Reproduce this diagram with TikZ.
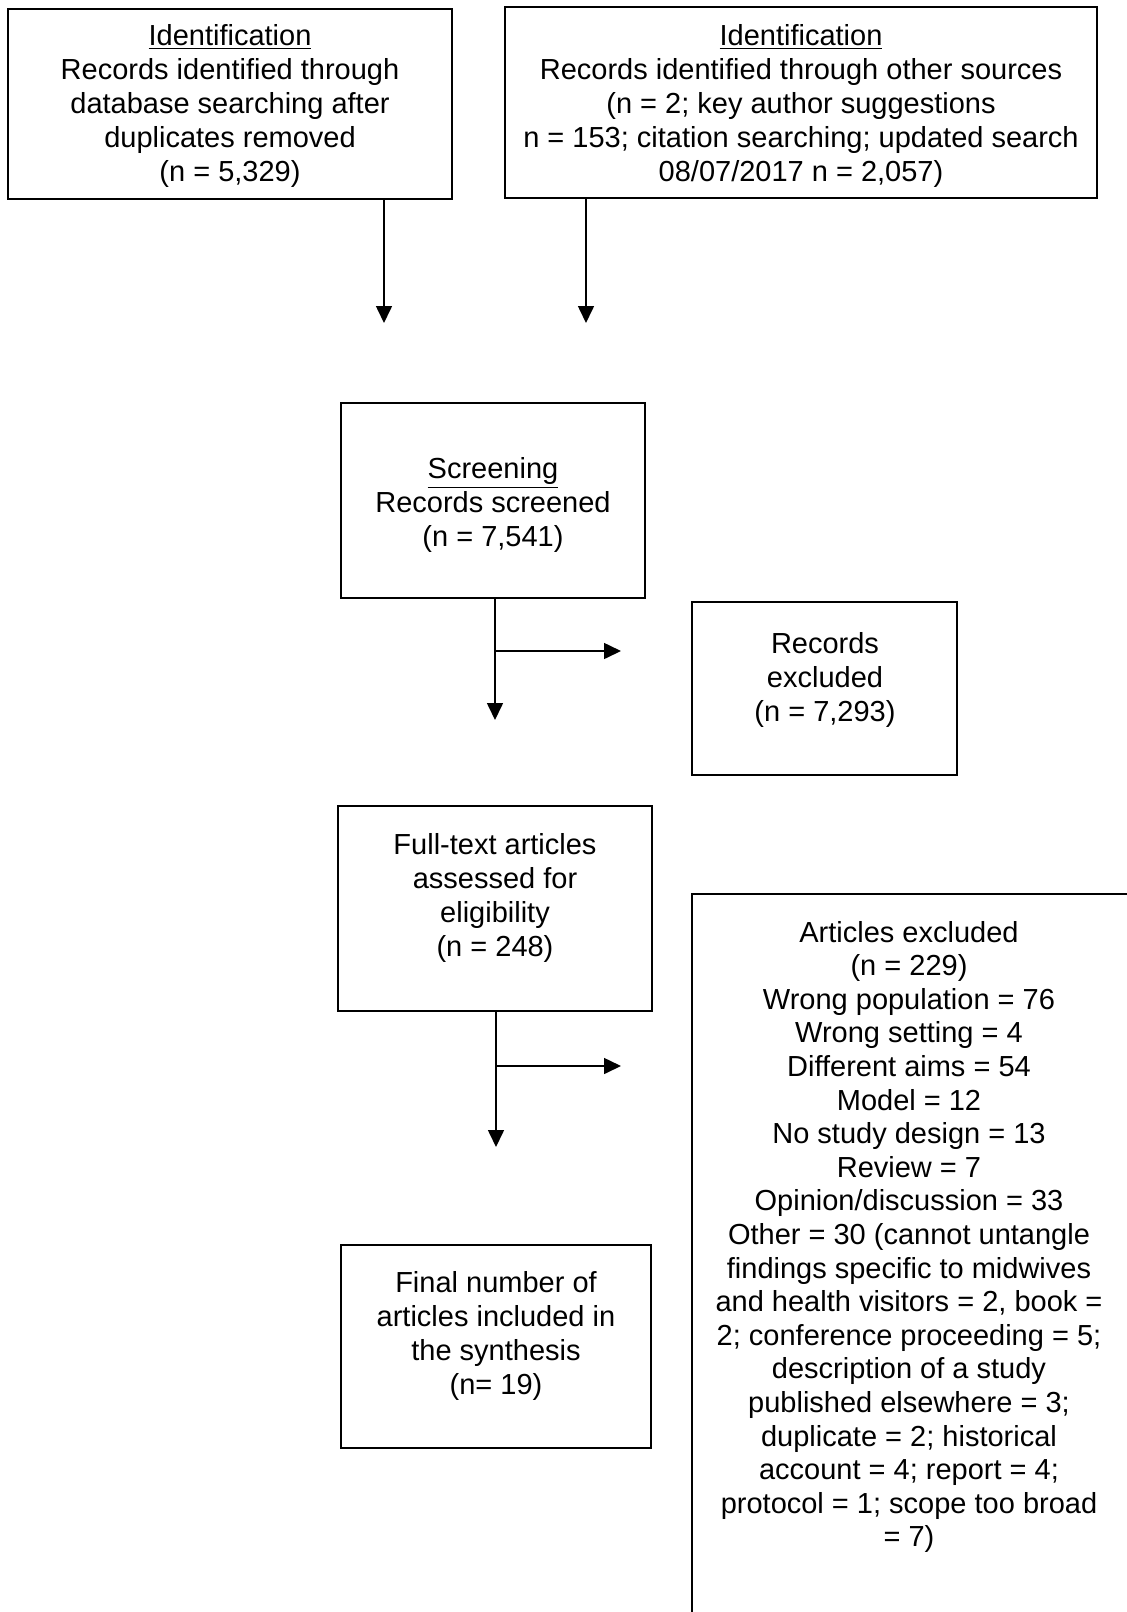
\documentclass[tikz,border=0pt]{standalone}
\usepackage{fontspec}
\setmainfont{Liberation Sans}
\usetikzlibrary{arrows.meta,fit}

\tikzset{
  stagebox/.style={draw=black, line width=1pt, inner sep=0pt, fill=none},
  boxtext/.style={align=center, inner sep=0pt, font=\fontsize{14.5}{17}\selectfont},
  listtext/.style={boxtext, font=\fontsize{14.5}{16.8}\selectfont},
  flow/.style={line width=0.8pt, -{Triangle[length=8.5pt,width=8pt]}},
}

\begin{document}
\begin{tikzpicture}[x=0.5pt, y=-0.5pt]
  \useasboundingbox (0,0) rectangle (1127,1612);
  \clip (0,0) rectangle (1127,1612);
  \fill[white] (0,0) rectangle (1127,1612);

  % identification boxes
  \node[stagebox, fit={(8,9) (452,199)}] (ident1) {};
  \node[boxtext] (ident1t) at (230,106)
    {\underline{Identification}\\Records identified through\\database searching after\\duplicates removed\\(n = 5,329)};

  \node[stagebox, fit={(505,7) (1097,198)}] (ident2) {};
  \node[boxtext] (ident2t) at (801,106)
    {\underline{Identification}\\Records identified through other sources\\(n = 2; key author suggestions\\n = 153; citation searching; updated search\\08/07/2017 n = 2,057)};

  % screening
  \node[stagebox, fit={(341,403) (645,598)}] (screen) {};
  \node[boxtext] (screent) at (493,505)
    {\underline{Screening}\\Records screened\\(n = 7,541)};

  \node[stagebox, fit={(692,602) (957,775)}] (recex) {};
  \node[boxtext] (recext) at (825,680)
    {Records\\excluded\\(n = 7,293)};

  % eligibility
  \node[stagebox, fit={(338,806) (652,1011)}] (fulltext) {};
  \node[boxtext] (fulltextt) at (495,898)
    {Full-text articles\\assessed for\\eligibility\\(n = 248)};

  \node[stagebox, fit={(692,894) (1145,1640)}] (artex) {};
  \node[listtext] (artext) at (909,1237)
    {Articles excluded\\(n = 229)\\Wrong population = 76\\Wrong setting = 4\\Different aims = 54\\Model = 12\\No study design = 13\\Review = 7\\Opinion/discussion = 33\\Other = 30 (cannot untangle\\findings specific to midwives\\and health visitors = 2, book =\\2; conference proceeding = 5;\\description of a study\\published elsewhere = 3;\\duplicate = 2; historical\\account = 4; report = 4;\\protocol = 1; scope too broad\\= 7)};

  % included
  \node[stagebox, fit={(341,1245) (651,1448)}] (final) {};
  \node[boxtext] (finalt) at (496,1336)
    {Final number of\\articles included in\\the synthesis\\(n= 19)};

  % connector end points
  \coordinate (e1) at (384,323);
  \coordinate (e2) at (586,323);
  \coordinate (e3) at (495,720);
  \coordinate (b3) at (495,651);
  \coordinate (e4) at (621,651);
  \coordinate (e5) at (496,1147);
  \coordinate (b5) at (496,1066);
  \coordinate (e6) at (621,1066);

  % connectors
  \draw[flow] (ident1.south -| e1) -- (e1);
  \draw[flow] (ident2.south -| e2) -- (e2);
  \draw[flow] (screen.south -| e3) -- (e3);
  \draw[flow] (b3) -- (e4);
  \draw[flow] (fulltext.south -| e5) -- (e5);
  \draw[flow] (b5) -- (e6);
\end{tikzpicture}
\end{document}
